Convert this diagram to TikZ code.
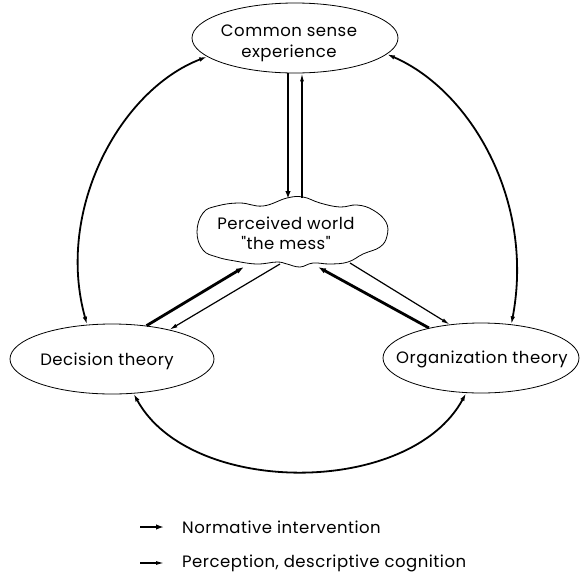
\documentclass[tikz,border=0pt]{standalone}
\usepackage{fontspec}
\setmainfont{Poppins}[Ligatures=TeXOff,LetterSpace=3]
\usetikzlibrary{shapes.geometric,arrows.meta}
\begin{document}
\begin{tikzpicture}[x=1pt,y=-1pt,
  oval/.style={draw,ellipse,line width=0.8pt,inner sep=0pt},
  txt/.style={font=\fontsize{16.5}{20.5}\selectfont,align=center,inner sep=0pt},
  norm/.style={line width=2.8pt,-{Latex[length=8pt,width=5.5pt]}},
  perc/.style={line width=1.2pt,-{Latex[length=8pt,width=4pt]}},
  loopar/.style={line width=1.8pt,{Latex[length=8pt,width=4.5pt]}-{Latex[length=8pt,width=4.5pt]}},
  lbl/.style={font=\fontsize{16.5}{20}\selectfont,anchor=west,inner sep=0pt}]
\useasboundingbox (0,0) rectangle (581,576);

% ellipses
\node[oval,minimum width=206pt,minimum height=70pt] (cs) at (295,38) {};
\node[txt] (csl) at (289,43.5) {Common sense\\experience};
\node[oval,minimum width=204pt,minimum height=70pt] (dt) at (112,359) {};
\node[txt] (dtl) at (107,361) {Decision theory};
\node[oval,minimum width=196pt,minimum height=70pt] (ot) at (481,358) {};
\node[txt] (otl) at (482,359) {Organization theory};

% cloud
\draw[line width=0.8pt] plot[smooth cycle, tension=0.7] coordinates {
 (197,232) (203,213) (217,206) (240,203) (263,206) (287,198) (303,197)
 (320,203) (340,207) (357,205) (373,210) (386,222) (387,236) (380,247)
 (363,254) (348,262) (330,264) (313,263) (300,267) (287,264) (277,262)
 (257,264) (235,261) (217,257) (203,250)};
\node[txt] (pw) at (286,233.5) {Perceived world\\"the mess"};
\coordinate (pwA) at (288,199);
\coordinate (pwB) at (302,198);
\coordinate (pwC) at (244,267);
\coordinate (pwD) at (280,264);
\coordinate (pwE) at (318,267);
\coordinate (pwF) at (350,263);

% straight arrows
\draw[norm] ([xshift=-7pt]cs.south) -- (pwA);
\draw[perc] (pwB) -- ([xshift=7pt]cs.south);
\draw[norm] (dt.44) -- (pwC);
\draw[perc] (pwD) -- (dt.27);
\draw[norm] (ot.150) -- (pwE);
\draw[perc] (pwF) -- (ot.133);

% curved arrows
\draw[loopar] (cs.192) .. controls (120,90) and (55,210) .. (dt.126);
\draw[loopar] (cs.-10) .. controls (470,90) and (535,200) .. (ot.48);
\draw[loopar] (dt.-58) .. controls (190,497) and (410,497) .. (ot.-113);

% legend
\coordinate (l1a) at (140,527);
\coordinate (l1b) at (164,527);
\coordinate (l2a) at (140,563);
\coordinate (l2b) at (164,563);
\draw[norm] (l1a) -- (l1b);
\draw[perc] (l2a) -- (l2b);
\node[lbl] (l1) at (182,527) {Normative intervention};
\node[lbl] (l2) at (182,563) {Perception, descriptive cognition};
\end{tikzpicture}
\end{document}
